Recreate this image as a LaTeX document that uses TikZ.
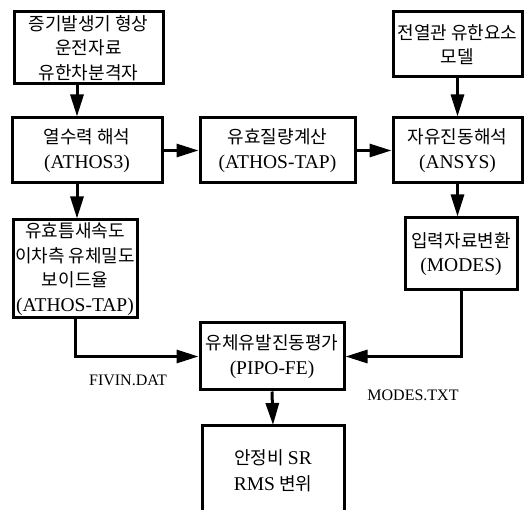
\documentclass[tikz,border=0pt]{standalone}
\usepackage{fontspec}
\setmainfont{Liberation Serif}
\newfontfamily\krfont{Noto Sans CJK KR}
\usetikzlibrary{arrows.meta}
\newcommand{\lat}[1]{{\normalfont\fontsize{19.5}{24}\selectfont #1}}

\begin{document}
\begin{tikzpicture}[x=1pt, y=-1pt,
    box/.style={draw, line width=3pt, inner sep=0pt, align=center,
      font=\fontsize{18}{24.5}\selectfont\krfont},
    flow/.style={line width=3pt, -{Triangle[length=22pt, width=13pt]}},
    lbl/.style={font=\fontsize{16}{19}\selectfont}]
  \useasboundingbox (0,0) rectangle (530,510);
  \clip (0,0) rectangle (530,510);
  % boxes
  \node[box, minimum width=149pt, minimum height=72pt] (gen) at (88.5,48)
    {증기발생기 형상\\운전자료\\유한차분격자};
  \node[box, minimum width=150pt, minimum height=65pt] (thermo) at (87,150.5)
    {열수력 해석\\\lat{(ATHOS3)}};
  \node[box, minimum width=155pt, minimum height=65pt] (mass) at (277.5,150.5)
    {유효질량계산\\\lat{(ATHOS-TAP)}};
  \node[box, minimum width=129pt, minimum height=65pt] (tube) at (457.5,44.5)
    {전열관 유한요소\\모델};
  \node[box, minimum width=129pt, minimum height=65pt] (ansys) at (457.5,150.5)
    {자유진동해석\\\lat{(ANSYS)}};
  \node[box, minimum width=112pt, minimum height=72pt] (conv) at (461,254)
    {입력자료변환\\\lat{(MODES)}};
  \node[box, minimum width=124pt, minimum height=98pt] (gap) at (75,269)
    {유효틈새속도\\이차측 유체밀도\\보이드율\\\lat{(ATHOS-TAP)}};
  \node[box, minimum width=144pt, minimum height=67pt] (fiv) at (272,356.5)
    {유체유발진동평가\\\lat{(PIPO-FE)}};
  % open box at the bottom
  \draw[line width=3pt] (202,530) -- (202,425) -- (344,425) -- (344,530);
  \coordinate (restop) at (273,425);
  \node[font=\fontsize{18}{26}\selectfont\krfont, align=center] (res) at (273,471)
    {안정비 \lat{SR}\\\lat{RMS} 변위};
  % connectors
  \coordinate (axA) at (77,0);
  \draw[flow] (gen.south -| axA) -- (thermo.north -| axA);
  \draw[flow] (thermo) -- (mass);
  \draw[flow] (mass) -- (ansys);
  \draw[flow] (tube) -- (ansys);
  \draw[flow] (thermo.south -| axA) -- (gap.north -| axA);
  \draw[flow] (ansys.south) -- (ansys.south |- conv.north);
  \draw[flow] (gap.south) |- (fiv.west);
  \draw[flow] (conv.south) |- (fiv.east);
  \draw[flow] (fiv.south) -- (restop);
  \node[lbl] (fivin) at (128,380) {FIVIN.DAT};
  \node[lbl] (modes) at (413,395) {MODES.TXT};
\end{tikzpicture}
\end{document}
